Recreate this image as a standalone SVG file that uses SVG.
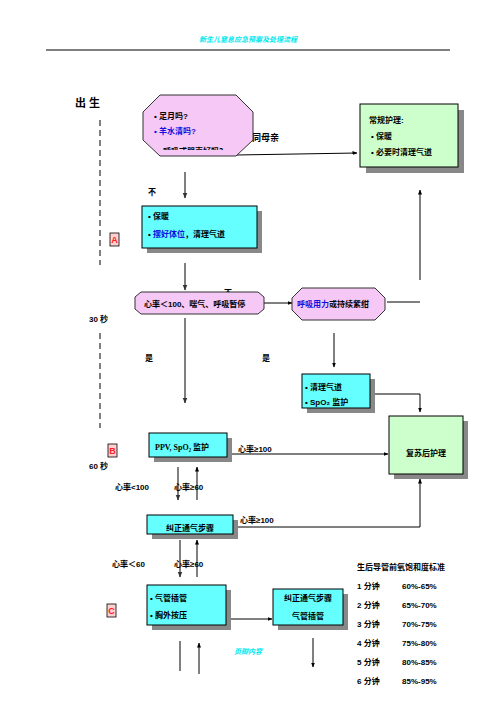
<svg xmlns="http://www.w3.org/2000/svg" width="496" height="702" viewBox="0 0 496 702">
<defs>
<marker id="ah" viewBox="0 0 10 10" refX="9" refY="5" markerWidth="5" markerHeight="5" orient="auto"><path d="M0,1 L10,5 L0,9 z" fill="#000"/></marker>
<marker id="ahg" viewBox="0 0 10 10" refX="9" refY="5" markerWidth="4" markerHeight="4" orient="auto"><path d="M0,1 L10,5 L0,9 z" fill="#333"/></marker>
<clipPath id="oct1clip"><rect x="143" y="95" width="110" height="55"/></clipPath>
</defs>
<style>
text{font-family:"Liberation Sans","Noto Sans CJK SC",sans-serif;font-weight:bold;font-size:8px;fill:#000}
.blue{fill:#1010e0}
.hdr{fill:#00e8f0;font-style:italic;font-size:7px}
.cyan{fill:#66ffff;stroke:#000;stroke-width:1}
.green{fill:#ccffcc;stroke:#000;stroke-width:1}
.pink{fill:#f5c8f5;stroke:#333;stroke-width:1}
.shadow{fill:#888}
.ln{stroke:#000;stroke-width:1;fill:none}
.lng{stroke:#555;stroke-width:1.5;fill:none}
.dash{stroke:#000;stroke-width:1;stroke-dasharray:6,4;fill:none}
.red{fill:#ff2020;font-size:9px}
.redbox{fill:#ffd0d0;stroke:#000;stroke-width:0.8}
</style>
<rect width="496" height="702" fill="#fff"/>
<text class="hdr" x="248" y="42" text-anchor="middle">新生儿窒息应急预案及处理流程</text>
<line x1="46" y1="50" x2="450" y2="50" stroke="#000" stroke-width="1"/>

<g id="timeline">
<text x="75" y="107" style="font-size:11px">出 生</text>
<line class="dash" x1="100" y1="120" x2="100" y2="265"/>
<text x="89" y="322">30 秒</text>
<line class="dash" x1="100" y1="333" x2="100" y2="428"/>
<text x="89" y="469">60 秒</text>
</g>

<g id="labels-back">
<text x="224" y="296">不</text>
</g>

<g id="connectors">
<line class="ln" x1="236" y1="155" x2="357" y2="153" marker-end="url(#ah)"/>
<line class="lng" x1="185" y1="172" x2="185" y2="198" marker-end="url(#ahg)"/>
<line class="lng" x1="185" y1="263" x2="185" y2="290" marker-end="url(#ahg)"/>
<line class="ln" x1="263" y1="303" x2="292" y2="303" marker-end="url(#ah)"/>
<line class="ln" x1="387" y1="302" x2="420" y2="302"/>
<line class="ln" x1="420" y1="280" x2="420" y2="190" marker-end="url(#ah)"/>
<line class="lng" x1="185" y1="318" x2="185" y2="403" marker-end="url(#ahg)"/>
<line class="ln" x1="334" y1="333" x2="334" y2="367" marker-end="url(#ah)"/>
<polyline class="ln" points="373,394 420,394 420,412" marker-end="url(#ah)"/>
<line class="ln" x1="232" y1="454" x2="388" y2="454" marker-end="url(#ah)"/>
<line class="lng" x1="178" y1="467" x2="178" y2="500" marker-end="url(#ahg)"/>
<line class="ln" x1="197" y1="500" x2="197" y2="467" marker-end="url(#ah)"/>
<polyline class="ln" points="236,527 420,527 420,479" marker-end="url(#ah)"/>
<line class="lng" x1="180" y1="540" x2="180" y2="577" marker-end="url(#ahg)"/>
<line class="ln" x1="197" y1="577" x2="197" y2="540" marker-end="url(#ah)"/>
<line class="ln" x1="228" y1="619" x2="272" y2="619" marker-end="url(#ah)"/>
<line class="ln" x1="313" y1="638" x2="313" y2="667" marker-end="url(#ah)"/>
<line class="lng" x1="180" y1="641" x2="180" y2="671"/>
<line class="ln" x1="199" y1="674" x2="199" y2="643" marker-end="url(#ah)"/>
</g>

<g id="labels">
<text x="252" y="141" style="font-size:9px">同母亲</text>
<text x="148" y="195">不</text>
<text x="145" y="361">是</text>
<text x="262" y="361">是</text>
<text x="238" y="452">心率≥100</text>
<text x="115" y="490">心率&lt;100</text>
<text x="174" y="490">心率≥60</text>
<text x="240" y="523">心率≥100</text>
<text x="112" y="567">心率＜60</text>
<text x="174" y="567">心率≥60</text>
<text class="hdr" x="234" y="654">页脚内容</text>
</g>

<g id="n-start">
<polygon class="pink" points="160,95 236,95 253,112 253,140 236,156 160,156 143,140 143,112"/>
<g clip-path="url(#oct1clip)">
<text x="154" y="119">• 足月吗?</text>
<text x="154" y="134" class="blue">• 羊水清吗?</text>
<text x="163" y="154">呼吸或哭声好吗？</text>
</g>
</g>

<g id="n-routine">
<rect class="shadow" x="366" y="110" width="98" height="63"/>
<rect class="green" x="360" y="104" width="98" height="63"/>
<text x="369" y="123">常规护理:</text>
<text x="371" y="139">• 保暖</text>
<text x="371" y="155">• 必要时清理气道</text>
</g>

<g id="n-warm">
<rect class="shadow" x="147" y="211" width="115" height="42"/>
<rect class="cyan" x="142" y="206" width="115" height="42"/>
<text x="148" y="219">• 保暖</text>
<text x="148" y="237">• <tspan class="blue">摆好体位</tspan>，清理气道</text>
</g>

<g id="mark-A">
<rect class="redbox" x="110" y="233" width="9" height="13"/>
<text class="red" x="114.5" y="243" text-anchor="middle">A</text>
</g>

<g id="n-hr">
<polygon class="pink" points="141,292 258,292 264,297 264,309 258,314 141,314 135,309 135,297"/>
<text x="144" y="307">心率＜100、喘气、呼吸暂停</text>
</g>

<g id="n-breath">
<polygon class="pink" points="302,288 375,288 385,298 385,310 375,320 302,320 292,310 292,298"/>
<text x="297" y="307"><tspan class="blue">呼吸用力</tspan>或持续紫绀</text>
</g>

<g id="n-clear">
<rect class="shadow" x="307" y="379" width="68" height="34"/>
<rect class="cyan" x="302" y="374" width="68" height="34"/>
<text x="305" y="390">• 清理气道</text>
<text x="305" y="405">• SpO₂ 监护</text>
</g>

<g id="n-post">
<rect class="shadow" x="394" y="421" width="74" height="58"/>
<rect class="green" x="389" y="416" width="74" height="58"/>
<text x="426" y="456" text-anchor="middle">复苏后护理</text>
</g>

<g id="n-ppv">
<rect class="shadow" x="154" y="438" width="78" height="24"/>
<rect class="cyan" x="149" y="433" width="78" height="24"/>
<text x="155" y="450" style="font-family:'Liberation Serif','Noto Sans CJK SC',serif">PPV, SpO₂ 监护</text>
</g>

<g id="mark-B">
<rect class="redbox" x="108" y="444" width="9" height="13"/>
<text class="red" x="112.5" y="454" text-anchor="middle">B</text>
</g>

<g id="n-correct1">
<rect class="shadow" x="152" y="520" width="86" height="19"/>
<rect class="cyan" x="147" y="515" width="86" height="19"/>
<text x="190" y="531" text-anchor="middle">纠正通气步骤</text>
</g>

<g id="n-intubate">
<rect class="shadow" x="152" y="590" width="79" height="40"/>
<rect class="cyan" x="147" y="585" width="79" height="40"/>
<text x="150" y="601">• 气管插管</text>
<text x="150" y="618">• 胸外按压</text>
</g>

<g id="n-correct2">
<rect class="shadow" x="278" y="594" width="70" height="36"/>
<rect class="cyan" x="273" y="589" width="70" height="36"/>
<text x="308" y="601" text-anchor="middle">纠正通气步骤</text>
<text x="308" y="619" text-anchor="middle">气管插管</text>
</g>

<g id="mark-C">
<rect class="redbox" x="107" y="604" width="9" height="13"/>
<text class="red" x="111.5" y="614" text-anchor="middle">C</text>
</g>

<g id="spo2-table">
<text x="357" y="570">生后导管前氧饱和度标准</text>
<text x="357" y="589">1 分钟</text><text x="402" y="589">60%-65%</text>
<text x="357" y="608">2 分钟</text><text x="402" y="608">65%-70%</text>
<text x="357" y="627">3 分钟</text><text x="402" y="627">70%-75%</text>
<text x="357" y="646">4 分钟</text><text x="402" y="646">75%-80%</text>
<text x="357" y="665">5 分钟</text><text x="402" y="665">80%-85%</text>
<text x="357" y="684">6 分钟</text><text x="402" y="684">85%-95%</text>
</g>
</svg>
